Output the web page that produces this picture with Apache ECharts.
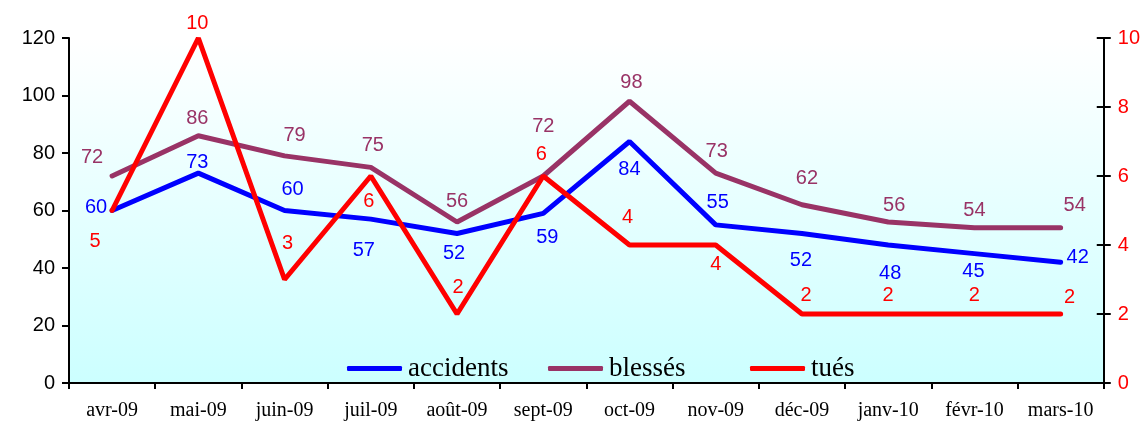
<!DOCTYPE html>
<html><head><meta charset="utf-8">
<script src="https://cdn.jsdelivr.net/npm/echarts@6/dist/echarts.min.js"></script>
<style>html,body{margin:0;padding:0;background:#fff}#c{width:1143px;height:421px}</style>
</head><body><div id="c"></div>
<script>
const categories = ['avr-09','mai-09','juin-09','juil-09','août-09','sept-09','oct-09','nov-09','déc-09','janv-10','févr-10','mars-10'];
const accidents = [60,73,60,57,52,59,84,55,52,48,45,42];
const blesses = [72,86,79,75,56,72,98,73,62,56,54,54];
const tues = [5,10,3,6,2,6,4,4,2,2,2,2];
const leftTicks = [0,20,40,60,80,100,120];
const rightTicks = [0,2,4,6,8,10];
// label placement: offset of label centre from its point, in pixels
const accLabelOffset = [[-16,-3],[-1,-11],[8,-21],[-7,31],[-3,20],[4,24],[0,28],[2,-22],[-1,27],[2,28],[-1,18],[17,-5]];
const blesLabelOffset = [[-20,-19],[-1,-17],[10,-20],[2,-22],[0,-21],[0,-50],[2,-19],[1,-22],[5,-26],[6,-17],[0,-17],[14,-22]];
const tuesLabelOffset = [[-17,31],[-1,-15],[3,-36],[-2,25],[1,-27],[-2,-22],[-2,-28],[0,19],[4,-19],[0,-19],[0,-19],[9,-17]];

const serif = 'Liberation Serif, Times New Roman, serif';
const sans = 'Liberation Sans, Arial, sans-serif';
function mk(vals, offs, color){
  return vals.map((v,i)=>({value:v, label:{show:true,position:offs[i],align:'center',verticalAlign:'middle',
    color:color,fontSize:20,fontFamily:sans}}));
}
function lineSeries(name, axis, vals, offs, color, z){
  return {name:name,type:'line',yAxisIndex:axis,data:mk(vals,offs,color),
    lineStyle:{color:color,width:5,cap:'round'},itemStyle:{color:color},
    symbol:'circle',symbolSize:0.01,showSymbol:true,showAllSymbol:true,
    labelLayout:{hideOverlap:false},z:z};
}
function legendAt(left, name){
  return {left:left,top:355,padding:0,itemWidth:55,itemHeight:5,icon:'roundRect',
    textStyle:{fontFamily:serif,fontSize:27,color:'#000',padding:[0,0,0,1]},
    data:[name]};
}
const chart = echarts.init(document.getElementById('c'));
chart.setOption({
  animation:false,
  grid:{left:69,right:37,top:38,bottom:38,show:true,borderWidth:0,
    backgroundColor:{type:'linear',x:0,y:0,x2:0,y2:1,colorStops:[{offset:0,color:'#ffffff'},{offset:1,color:'#ccffff'}]}},
  legend:[legendAt(347,'accidents'),legendAt(548,'blessés'),legendAt(750,'tués')],
  xAxis:{type:'category',data:categories,boundaryGap:true,
    axisLine:{lineStyle:{color:'#000',width:2}},
    axisTick:{show:true,length:6,lineStyle:{color:'#000',width:2}},
    axisLabel:{color:'#000',fontFamily:serif,fontSize:20,margin:18}},
  yAxis:[
    {type:'value',min:0,max:120,interval:20,position:'left',
      axisLine:{show:true,lineStyle:{color:'#000',width:2}},
      axisTick:{show:true,length:7,lineStyle:{color:'#000',width:2}},
      splitLine:{show:false},
      axisLabel:{color:'#000',fontSize:20,fontFamily:sans,margin:14,
        formatter:v=>leftTicks.includes(v)?String(v):''}},
    {type:'value',min:0,max:10,interval:2,position:'right',
      axisLine:{show:true,lineStyle:{color:'#000',width:2}},
      axisTick:{show:true,length:7,lineStyle:{color:'#000',width:2}},
      splitLine:{show:false},
      axisLabel:{color:'#ff0000',fontSize:20,fontFamily:sans,margin:14,
        formatter:v=>rightTicks.includes(v)?String(v):''}},
    {type:'value',min:0,max:10,interval:2,position:'right',
      axisLine:{show:false},
      axisTick:{show:true,inside:true,length:7,lineStyle:{color:'#000',width:2}},
      splitLine:{show:false},axisLabel:{show:false}}
  ],
  series:[
    lineSeries('accidents',0,accidents,accLabelOffset,'#0000ff',3),
    lineSeries('blessés',0,blesses,blesLabelOffset,'#993366',2),
    lineSeries('tués',1,tues,tuesLabelOffset,'#ff0000',4)
  ]
});
</script></body></html>
